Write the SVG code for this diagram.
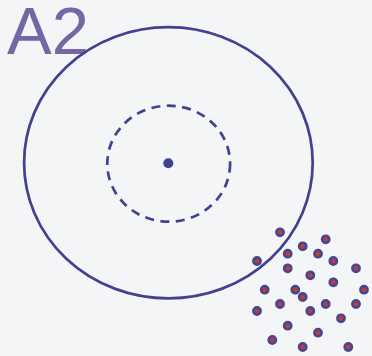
<svg xmlns="http://www.w3.org/2000/svg" width="372" height="356" viewBox="0 0 372 356">
<style>
.ln{fill:none;stroke:#414190;stroke-width:2.7}
.dash{fill:none;stroke:#414190;stroke-width:2.7;stroke-dasharray:9 6.5}
.pt{fill:#c0401f;stroke:#45459a;stroke-width:2.6}
.title{font-family:"Liberation Sans",Arial,sans-serif;font-size:67px;fill:#7367a4}
</style>
<rect width="372" height="356" fill="#f4f5f7"/>
<text class="title" x="7" y="54">A2</text>
<g id="outer"><ellipse class="ln" cx="168.4" cy="162.8" rx="144.3" ry="135.6"/></g>
<g id="inner"><ellipse class="dash" cx="168.7" cy="163.7" rx="61.4" ry="58"/></g>
<g id="center"><circle cx="168.3" cy="163.3" r="5" fill="#414190"/></g>
<g id="points">
<circle class="pt" cx="280" cy="232.3" r="3.6"/>
<circle class="pt" cx="325.7" cy="239.3" r="3.6"/>
<circle class="pt" cx="302.7" cy="246.3" r="3.6"/>
<circle class="pt" cx="287.7" cy="253.7" r="3.6"/>
<circle class="pt" cx="318" cy="253.7" r="3.6"/>
<circle class="pt" cx="257" cy="261" r="3.6"/>
<circle class="pt" cx="333.3" cy="261" r="3.6"/>
<circle class="pt" cx="287.7" cy="268.3" r="3.6"/>
<circle class="pt" cx="356" cy="268.3" r="3.6"/>
<circle class="pt" cx="310.3" cy="275.3" r="3.6"/>
<circle class="pt" cx="333.3" cy="282.3" r="3.6"/>
<circle class="pt" cx="264.7" cy="289.7" r="3.6"/>
<circle class="pt" cx="295.3" cy="289.7" r="3.6"/>
<circle class="pt" cx="364" cy="289.7" r="3.6"/>
<circle class="pt" cx="302.7" cy="297" r="3.6"/>
<circle class="pt" cx="280" cy="304" r="3.6"/>
<circle class="pt" cx="325.7" cy="304" r="3.6"/>
<circle class="pt" cx="356" cy="304" r="3.6"/>
<circle class="pt" cx="257" cy="311" r="3.6"/>
<circle class="pt" cx="310.3" cy="311" r="3.6"/>
<circle class="pt" cx="341" cy="318.3" r="3.6"/>
<circle class="pt" cx="287.7" cy="325.7" r="3.6"/>
<circle class="pt" cx="318" cy="332.7" r="3.6"/>
<circle class="pt" cx="272.3" cy="340" r="3.6"/>
<circle class="pt" cx="302.7" cy="347" r="3.6"/>
<circle class="pt" cx="348.3" cy="347" r="3.6"/>
</g>
</svg>
